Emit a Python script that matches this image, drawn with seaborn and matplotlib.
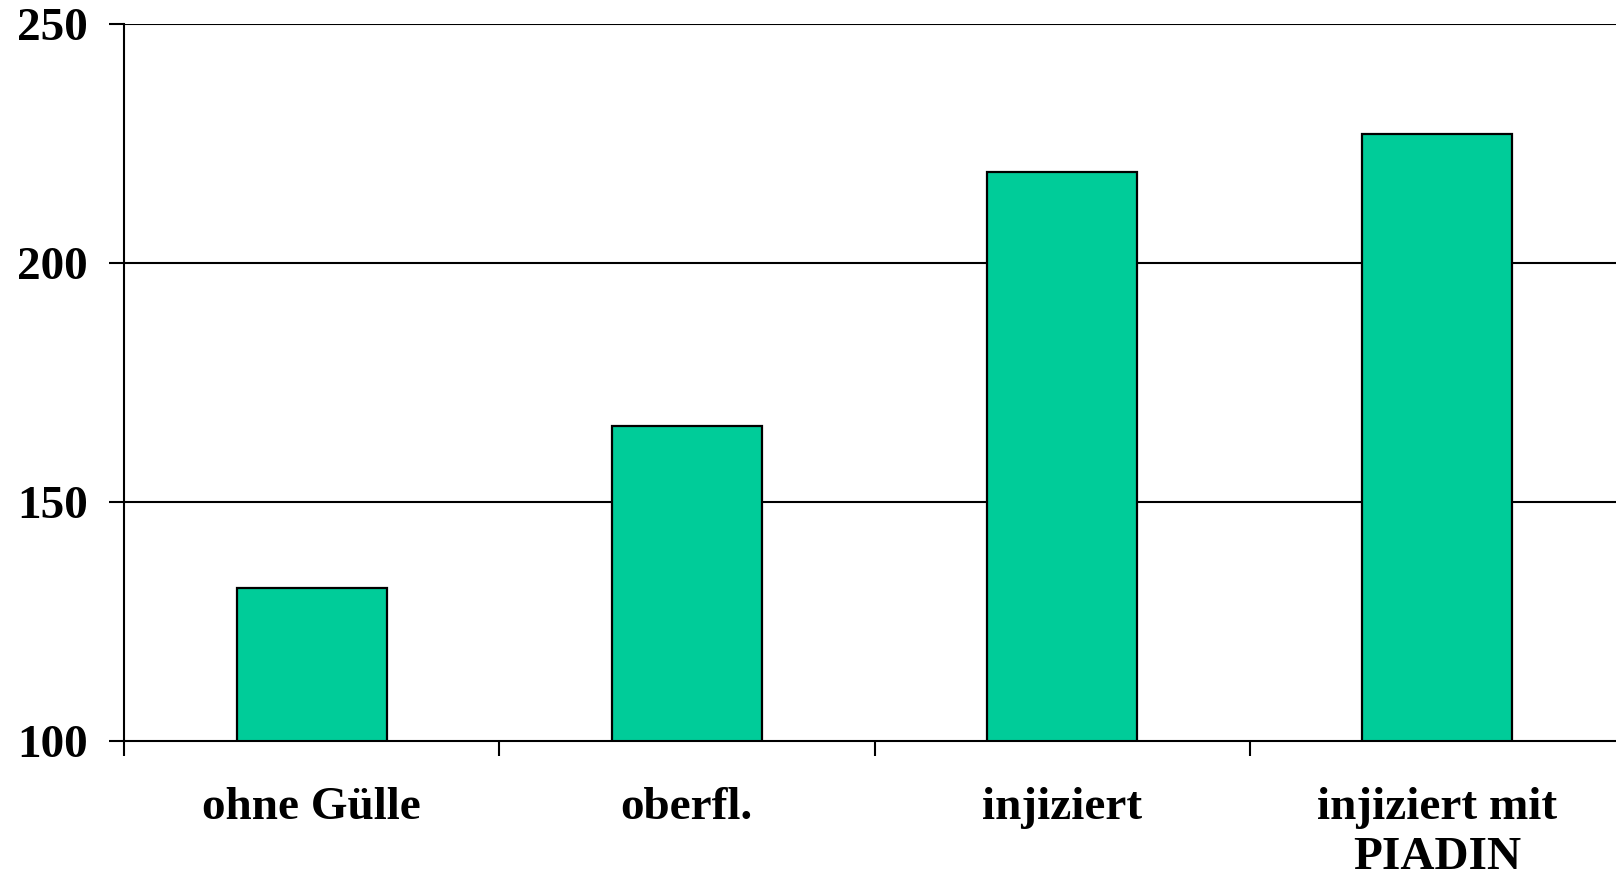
import matplotlib
matplotlib.use("Agg")
import matplotlib.pyplot as plt
import seaborn as sns
import pandas as pd

categories = ["ohne Gülle", "oberfl.", "injiziert", "injiziert mit\nPIADIN"]
values = [132, 166, 219, 227]
yticks = [100, 150, 200, 250]

sns.set_theme(style="white")
plt.rcParams['font.family'] = ['Liberation Serif', 'DejaVu Serif']
plt.rcParams['font.weight'] = 'bold'
plt.rcParams['text.color'] = 'black'
plt.rcParams['xtick.color'] = 'black'
plt.rcParams['ytick.color'] = 'black'
plt.rcParams['xtick.labelcolor'] = 'black'
plt.rcParams['ytick.labelcolor'] = 'black'

fig = plt.figure(figsize=(16.16, 8.77), dpi=100)
ax = fig.add_axes([124/1616, 1-741/877, (1625-124)/1616, (741-24)/877])

df = pd.DataFrame({"cat": categories, "val": values})
sns.barplot(data=df, x="cat", y="val", color="#00CC99", saturation=1,
            edgecolor="black", linewidth=1.6, width=0.4, ax=ax, zorder=3)

ax.set_ylim(100, 250)
ax.set_xlim(-0.5, 3.5)
ax.set_yticks(yticks)
ax.set_yticklabels([str(t) for t in yticks], fontsize=34, fontweight='bold', color='black')
ax.set_xticks(range(len(categories)))
ax.set_xticklabels(categories, fontsize=34, fontweight='bold', linespacing=1.26, color='black')
ax.set_xticks([-0.5, 0.5, 1.5, 2.5, 3.5], minor=True)
ax.tick_params(axis='x', which='major', length=0, pad=33)
ax.tick_params(axis='x', which='minor', length=11, width=1.5, color='black', direction='out', bottom=True)
ax.tick_params(axis='y', which='major', length=11, width=1.5, color='black', direction='out', left=True, pad=15)
ax.set_xlabel("")
ax.set_ylabel("")

for y in [150, 200, 250]:
    ax.axhline(y, color='black', linewidth=1.5, zorder=1)

for s in ['top', 'right']:
    ax.spines[s].set_visible(False)
for s in ['left', 'bottom']:
    ax.spines[s].set_color('black')
    ax.spines[s].set_linewidth(1.5)
    ax.spines[s].set_zorder(4)

fig.savefig("out.png", dpi=100, facecolor="white")
